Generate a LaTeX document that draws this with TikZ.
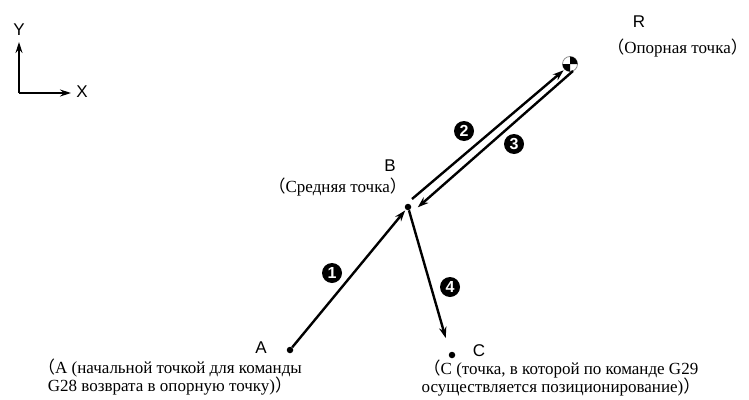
\documentclass[tikz,border=0pt]{standalone}
\usepackage{fontspec}
\setmainfont{Liberation Serif}
\newfontfamily\latinsans{Liberation Sans}
\newfontfamily\cjk{Noto Sans CJK JP}
\newcommand{\lpar}{\smash{\cjk （}}
\newcommand{\rpar}{\smash{\cjk ）}}
\usetikzlibrary{arrows.meta, positioning, calc}

\begin{document}
\begin{tikzpicture}[x=1pt, y=-1pt, >={Stealth[length=11pt, width=7.5pt]},
    pt/.style={circle, fill=black, inner sep=0pt, minimum size=6.5pt},
    letter/.style={font=\latinsans\fontsize{17}{17}\selectfont, inner sep=0pt},
    note/.style={font=\fontsize{17}{18}\selectfont, align=center, inner sep=0pt},
    move/.style={->, line width=2.4pt, shorten >=1pt},
    num/.style={circle, fill=black, text=white, inner sep=0pt, minimum size=20pt,
      font=\latinsans\bfseries\fontsize{16}{16}\selectfont},
    axis/.style={->, line width=1.3pt, >={Stealth[length=11pt, width=7pt]}}]
  \useasboundingbox (0,0) rectangle (749,399);

  % coordinate axes
  \coordinate (o) at (19,93);
  \coordinate (ytip) at (19,42);
  \coordinate (xtip) at (71,93);
  \draw[axis] (o) -- (ytip);
  \draw[axis] (o) -- (xtip);
  \node[letter] (ylab) at (19,30) {Y};
  \node[letter] (xlab) at (82,92) {X};

  % points
  \node[pt] (a) at (290,350) {};
  \node[pt] (b) at (408,207) {};
  \node[pt] (c) at (452,355) {};
  \node[circle, draw=black!45, line width=0.8pt, minimum size=15pt, inner sep=0pt] (r) at (570,64) {};
  \fill (r.center) -- ++(7.5,0) arc (0:-90:7.5) -- cycle;
  \fill (r.center) -- ++(-7.5,0) arc (180:90:7.5) -- cycle;

  % labels
  \node[letter] (alab) at (261,348) {A};
  \node[letter] (blab) at (390,166) {B};
  \node[letter] (clab) at (479,351) {C};
  \node[letter] (rlab) at (639,22) {R};
  \node[note] (atext) at (170,378) {\lpar А (начальной точкой для команды\\G28 возврата в опорную точку)\rpar};
  \node[note, anchor=east] (btext) at (407,189) {\lpar Средняя точка\rpar};
  \node[note, anchor=east] (rtext) at (748,50) {\lpar Опорная точка\rpar};
  \node[note] (ctext) at (561,379) {\lpar С (точка, в которой по команде G29\\осуществляется позиционирование)\rpar};

  % movements
  \coordinate (s2) at (412,199);
  \coordinate (e3) at (417,208);
  \coordinate (s3) at (573,71);
  \draw[move] (a) -- (b);
  \draw[move] (s2) -- (r.south west);
  \draw[move] (s3) -- (e3);
  \draw[move] (b) -- ($(c)+(-6,-16)$);
  \node[num] (n1) at (332,273) {1};
  \node[num] (n2) at (464,131) {2};
  \node[num] (n3) at (514,144) {3};
  \node[num] (n4) at (450,287) {4};
\end{tikzpicture}
\end{document}
